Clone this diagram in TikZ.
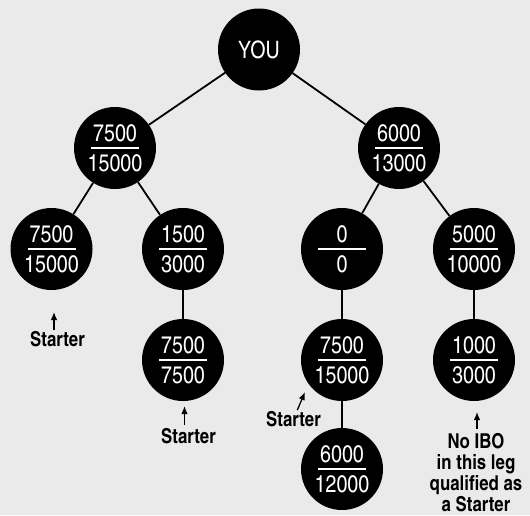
\documentclass[tikz,border=0pt]{standalone}
\usepackage{fontspec}
\setmainfont{texgyreheroscn}[Extension=.otf, UprightFont=*-regular, BoldFont=*-bold]
\usepackage{tikz}
\usetikzlibrary{arrows.meta,positioning}
\definecolor{paper}{HTML}{EAEAEA}
\definecolor{ink}{HTML}{000000}
\tikzset{
  disc/.style={
    circle, fill=ink, text=white, minimum size=82pt, inner sep=0pt,
    align=center, font=\fontsize{24}{30}\selectfont},
  share/.style={disc, path picture={
    \draw[white, line width=1.6pt]
      ([xshift=-24pt]path picture bounding box.center) --
      ([xshift=24pt]path picture bounding box.center);}},
  link/.style={draw=ink, line width=1.8pt},
  pointer/.style={-{Latex[length=8pt,width=6.5pt]}, line width=1.3pt, color=ink},
  note/.style={font=\fontsize{20.5}{21}\selectfont\bfseries, align=center, text=ink, inner sep=0pt},
}

\begin{document}
\begin{tikzpicture}[on grid]
  \path[use as bounding box, fill=paper] (0,0) rectangle (530pt,-515pt);

  \node[disc] (you) at (259pt,-49.5pt) {YOU};
  \node[share, below left=98.5pt and 144pt of you] (legL) {7500\\15000};
  \node[share, below right=98.5pt and 140pt of you] (legR) {6000\\13000};
  \node[share, below left=101pt and 63.5pt of legL] (ll) {7500\\15000};
  \node[share, below right=101pt and 68pt of legL] (lr) {1500\\3000};
  \node[share, below left=101pt and 57pt of legR] (rl) {0\\0};
  \node[share, below right=101pt and 75pt of legR] (rr) {5000\\10000};
  \node[share, below=111pt of lr] (lrd) {7500\\7500};
  \node[share, below=111pt of rl] (rld) {7500\\15000};
  \node[share, below=111pt of rr] (rrd) {1000\\3000};
  \node[share, below=109pt of rld] (rldd) {6000\\12000};

  \node[note, below=90pt of ll, xshift=6pt] (startL) {Starter};
  \node[note, below=76.5pt of lrd, xshift=5.5pt] (startM) {Starter};
  \node[note, below left=59pt and 48.5pt of rld] (startR) {Starter};
  \node[note, below=113pt of rrd, xshift=2pt] (noIbo)
    {No IBO\\in this leg\\qualified as\\a Starter};

  \coordinate[above=27pt of startL, xshift=-3.5pt] (tipL);
  \coordinate[above=30.5pt of startM, xshift=-4pt] (tipM);
  \coordinate[above right=27pt and 11.5pt of startR] (tipR);
  \coordinate[above=61pt of noIbo, xshift=1pt] (tipN);

  \draw[link] (you) -- (legL);
  \draw[link] (you) -- (legR);
  \draw[link] (legL) -- (ll);
  \draw[link] (legL) -- (lr);
  \draw[link] (legR) -- (rl);
  \draw[link] (legR) -- (rr);
  \draw[link] (lr) -- (lrd);
  \draw[link] (rl) -- (rld);
  \draw[link] (rr) -- (rrd);
  \draw[link] (rld) -- (rldd);

  \draw[pointer, shorten <=1pt] (startL.north -| tipL) -- (tipL);
  \draw[pointer, shorten <=4pt] (startM.north -| tipM) -- (tipM);
  \draw[pointer, shorten <=1pt] (startR) -- (tipR);
  \draw[pointer, shorten <=5pt] (noIbo.north -| tipN) -- (tipN);
\end{tikzpicture}
\end{document}
